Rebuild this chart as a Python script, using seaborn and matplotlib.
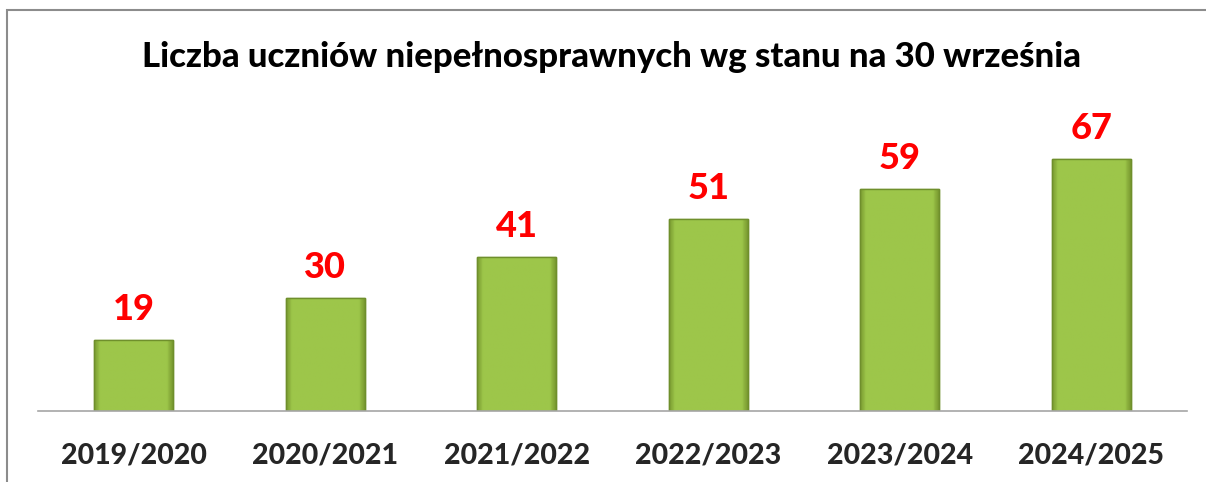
import numpy as np
import pandas as pd
import matplotlib.pyplot as plt
from matplotlib.patches import Rectangle
import seaborn as sns

sns.set_theme(style='white')
plt.rcParams['font.family'] = ['Lato', 'DejaVu Sans']

years = ['2019/2020', '2020/2021', '2021/2022', '2022/2023', '2023/2024', '2024/2025']
counts = [19, 30, 41, 51, 59, 67]
title = 'Liczba uczniów niepełnosprawnych wg stanu na 30 września'

df = pd.DataFrame({'rok': years, 'liczba': counts})

W, H = 1206, 482
fig = plt.figure(figsize=(W / 100, H / 100), dpi=100)
ax = fig.add_axes([38 / W, (H - 411) / H, (1187 - 38) / W, (411 - 110) / H])

sns.barplot(data=df, x='rok', y='liczba', color='#9cc448', width=0.41,
            edgecolor='#6f8f2c', linewidth=1.0, ax=ax)

# soft bevel shading on each bar
grad = np.linspace(0, 1, 64)
shade = np.clip(1 - np.abs(grad - 0.5) * 2, 0, 0.14) / 0.14
img = np.outer(np.ones(8), shade)
cmap = sns.blend_palette(['#7a9b31', '#9dc64a'], as_cmap=True)
for p in ax.patches:
    x0, y0 = p.get_x(), p.get_y()
    w, h = p.get_width(), p.get_height()
    im = ax.imshow(img, extent=[x0, x0 + w, y0, y0 + h], aspect='auto',
                   cmap=cmap, vmin=0, vmax=1, zorder=p.get_zorder() + 0.1)
    im.set_clip_path(p)
    ax.add_patch(Rectangle((x0, y0), w, h, fill=False, edgecolor='#6f8f2c',
                           linewidth=1.0, zorder=p.get_zorder() + 0.2))

for i, v in enumerate(counts):
    ax.annotate(str(v), (i, v), xytext=(0, 10), textcoords='offset points',
                ha='center', va='bottom', color='#ff0000', fontsize=26,
                fontweight='black')

ax.set_xlim(-0.5, 5.5)
ax.set_ylim(0, 80)
ax.set_xlabel('')
ax.set_ylabel('')
ax.set_yticks([])
ax.tick_params(axis='x', length=0, pad=23, labelsize=20.5)
for lbl in ax.get_xticklabels():
    lbl.set_fontweight('black')
for s in ['top', 'right', 'left']:
    ax.spines[s].set_visible(False)
ax.spines['bottom'].set_color('#a6a6a6')
ax.spines['bottom'].set_linewidth(1.2)

fig.text(612 / W, 1 - 57 / H, title, ha='center', va='center',
         fontsize=25, fontweight='black', color='black')

fig.patches.append(Rectangle((7 / W, -0.1), 1.2, (H - 10) / H + 0.1,
                             transform=fig.transFigure, fill=False,
                             edgecolor='#8c8c8c', linewidth=1.5))

fig.savefig('out.png', dpi=100)
